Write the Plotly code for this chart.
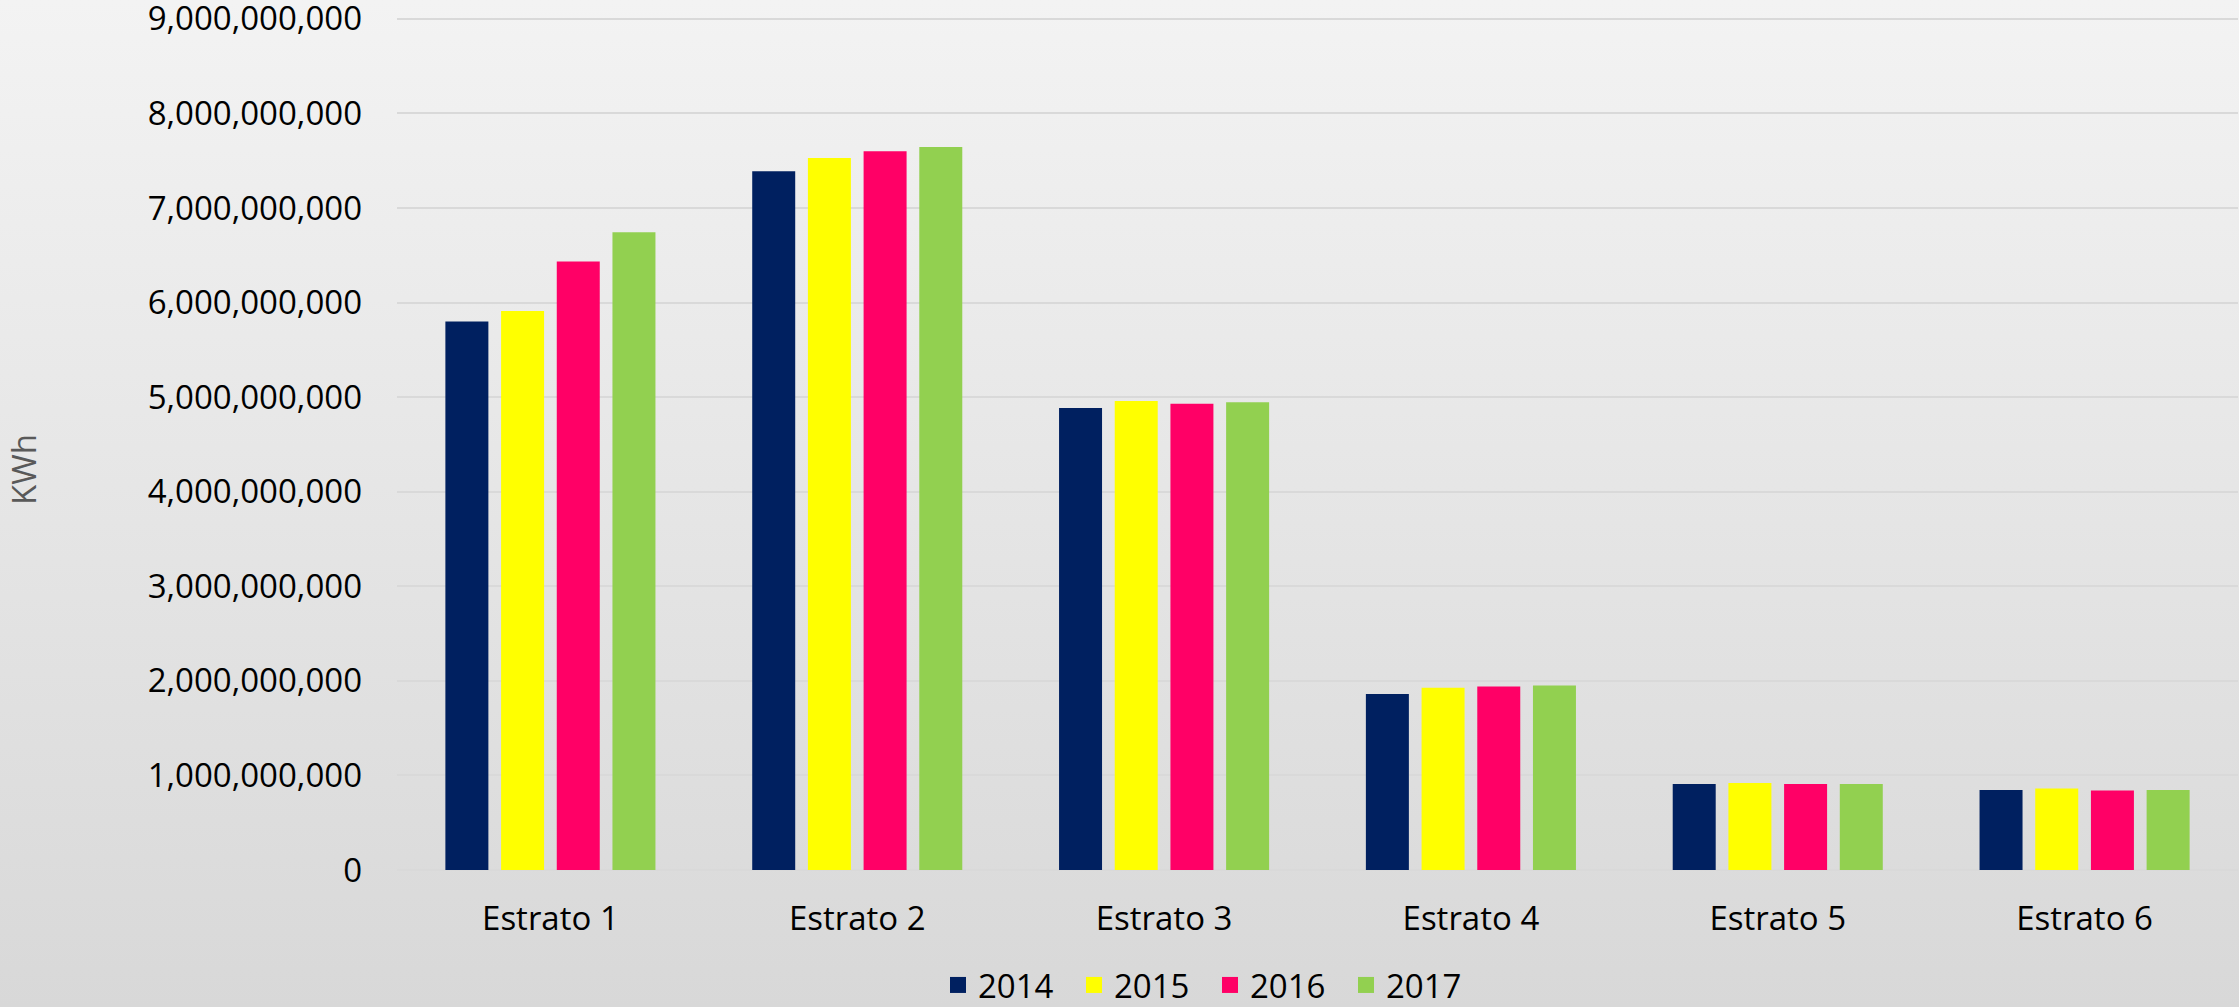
import base64
import plotly.graph_objects as go

categories = ["Estrato 1", "Estrato 2", "Estrato 3", "Estrato 4", "Estrato 5", "Estrato 6"]
years = ["2014", "2015", "2016", "2017"]
v2014 = [5.80e9, 7.39e9, 4.885e9, 1.862e9, 0.910e9, 0.847e9]
v2015 = [5.91e9, 7.53e9, 4.96e9, 1.926e9, 0.921e9, 0.861e9]
v2016 = [6.435e9, 7.60e9, 4.93e9, 1.940e9, 0.910e9, 0.840e9]
v2017 = [6.745e9, 7.646e9, 4.945e9, 1.951e9, 0.910e9, 0.847e9]
series = [v2014, v2015, v2016, v2017]
colors = ["#002060", "#FFFF00", "#FF0066", "#92D050"]
y_title = "KWh"

W, H = 2239, 1007
ML, MR, MT, MB = 397, 1, 17, 137
PW, PH = W - ML - MR, H - MT - MB

FONT = "Open Sans"

fig = go.Figure()
for name, vals, col in zip(years, series, colors):
    fig.add_trace(go.Bar(name=name, x=categories, y=vals, marker=dict(color=col, line=dict(width=0)),
                         legendgroup=name, showlegend=False))
for name, col in zip(years, colors):
    fig.add_trace(go.Scatter(name=name, x=[None], y=[None], mode="markers",
                             marker=dict(symbol="square", size=16, color=col),
                             legendgroup=name, showlegend=True))

svg = ('<svg xmlns="http://www.w3.org/2000/svg" width="100" height="100" preserveAspectRatio="none" viewBox="0 0 100 100">'
       '<defs><linearGradient id="g" x1="0" y1="0" x2="0" y2="1">'
       '<stop offset="0" stop-color="#f3f3f3"/><stop offset="1" stop-color="#d8d8d8"/></linearGradient></defs>'
       '<rect width="100" height="100" fill="url(#g)"/></svg>')
src = "data:image/svg+xml;base64," + base64.b64encode(svg.encode()).decode()

fig.update_layout(
    width=W, height=H, autosize=False,
    margin=dict(l=ML, r=MR, t=MT, b=MB, pad=0, autoexpand=False),
    paper_bgcolor="#e5e5e5", plot_bgcolor="rgba(0,0,0,0)",
    font=dict(family=FONT, size=33, color="#000000"),
    barmode="group", bargap=0.274, bargroupgap=0.228,
    images=[dict(source=src, xref="paper", yref="paper",
                 x=-ML / PW, y=1 + MT / PH, sizex=W / PW, sizey=H / PH,
                 xanchor="left", yanchor="top", sizing="stretch", layer="below")],
    legend=dict(orientation="h", x=(938 - ML) / PW, xanchor="left",
                y=-(985 - (H - MB)) / PH, yanchor="middle",
                font=dict(family=FONT, size=33, color="#000000"),
                bgcolor="rgba(0,0,0,0)", itemwidth=30, tracegroupgap=0,
                entrywidth=91, entrywidthmode="pixels"),
    showlegend=True,
    annotations=[dict(text=y_title, textangle=-90, xref="paper", yref="paper",
                      x=(23 - ML) / PW, y=((H - MB) - 470) / PH, xanchor="center", yanchor="middle",
                      showarrow=False, font=dict(family=FONT, size=33, color="#595959"))],
)
fig.update_xaxes(showgrid=False, showline=False, zeroline=False, ticks="", automargin=False,
                 tickfont=dict(family=FONT, size=33, color="#000000"), ticklabelstandoff=26)
fig.update_yaxes(range=[0, 9.02e9], dtick=1e9, tick0=0, tickformat=",d", automargin=False,
                 showgrid=True, gridcolor="#d9d9d9", gridwidth=2,
                 zeroline=True, zerolinecolor="#d9d9d9", zerolinewidth=2,
                 showline=False, ticks="", ticklabelstandoff=34, ticklabeloverflow="allow",
                 tickfont=dict(family=FONT, size=33, color="#000000"))

fig.write_html("out.html", config={"displayModeBar": False},
               post_script="document.body.style.margin='0';document.body.style.overflow='hidden';")
